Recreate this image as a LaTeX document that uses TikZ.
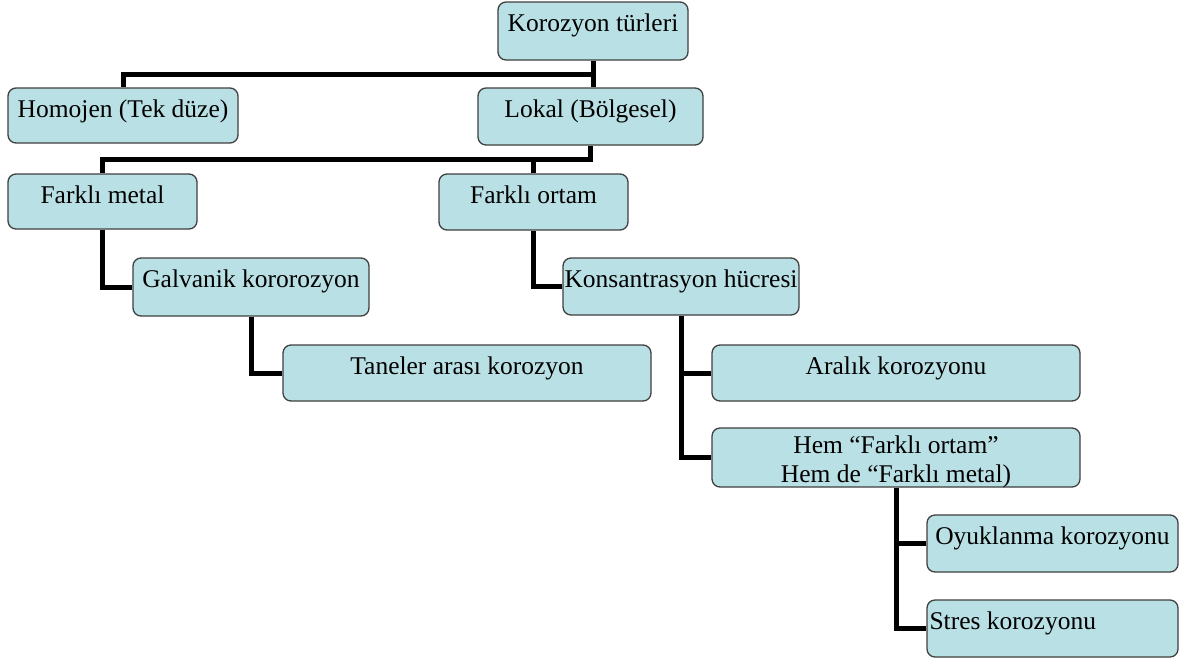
\documentclass[tikz,border=0pt]{standalone}
\usepackage{fontspec}
\setmainfont{Liberation Serif}
\usetikzlibrary{calc,backgrounds}
\definecolor{boxfill}{RGB}{185,224,228}
\definecolor{boxline}{RGB}{64,64,64}
\tikzset{
  box/.style={draw=boxline, fill=boxfill, line width=1.3pt, rounded corners=8pt, inner sep=0pt},
  txt/.style={inner sep=0pt, font=\fontsize{25.5}{29}\selectfont},
  conn/.style={line width=5pt, black}
}
\newcommand{\mybox}[5]{% name x1 y1 x2 y2
  \node[box, minimum width={(#4-#2)*1pt}, minimum height={(#5-#3)*1pt}] (#1) at ({(#2+#4)/2},{(#3+#5)/2}) {};}
\begin{document}
\begin{tikzpicture}[x=1pt,y=-1pt]
\useasboundingbox (0,0) rectangle (1182,662);

\mybox{root}{498}{2}{688}{60}
\mybox{hom}{8}{88}{238}{143}
\mybox{lok}{478}{88}{703}{145}
\mybox{fm}{8}{174}{197}{229}
\mybox{fo}{439}{174}{628}{230}
\mybox{gal}{133}{258}{369}{316}
\mybox{tan}{283}{345}{651}{401}
\mybox{kon}{563}{258}{799}{315}
\mybox{ara}{712}{345}{1080}{401}
\mybox{hem}{712}{428}{1080}{487}
\mybox{oyu}{927}{515}{1178}{572}
\mybox{str}{927}{600}{1178}{657}

\node[txt, anchor=base] (troot) at ($(root.north)+(0,30)$) {Korozyon türleri};
\node[txt, anchor=base] (thom) at ($(hom.north)+(0,30)$) {Homojen (Tek düze)};
\node[txt, anchor=base] (tlok) at ($(lok.north)+(0,30)$) {Lokal (Bölgesel)};
\node[txt, anchor=base] (tfm) at ($(fm.north)+(0,30)$) {Farklı metal};
\node[txt, anchor=base] (tfo) at ($(fo.north)+(0,30)$) {Farklı ortam};
\node[txt, anchor=base] (tgal) at ($(gal.north)+(0,30)$) {Galvanik kororozyon};
\node[txt, anchor=base] (ttan) at ($(tan.north)+(0,30)$) {Taneler arası korozyon};
\node[txt, anchor=base] (tkon) at ($(kon.north)+(0,30)$) {Konsantrasyon hücresi};
\node[txt, anchor=base] (tara) at ($(ara.north)+(0,30)$) {Aralık korozyonu};
\node[txt, anchor=base] (thema) at ($(hem.north)+(0,26)$) {Hem “Farklı ortam”};
\node[txt, anchor=base] (themb) at ($(hem.north)+(0,55)$) {Hem de “Farklı metal)};
\node[txt, anchor=base] (toyu) at ($(oyu.north)+(0,30)$) {Oyuklanma korozyonu};
\node[txt, anchor=base west] (tstr) at ($(str.north west)+(3,30)$) {Stres korozyonu};

\begin{scope}[on background layer]
\fill[white] (0,0) rectangle (1182,662);
\coordinate (b1) at ($(root.south)!.5!(root.south|-lok.north)$);
\draw[conn] (root.south) -- (root.south|-lok.north);
\draw[conn] (b1) -| (hom.north);
\coordinate (b2) at ($(lok.south)!.5!(lok.south|-fm.north)$);
\draw[conn] (lok.south) -- (b2) -| (fm.north);
\draw[conn] (b2) -| (fo.north);
\draw[conn] (fm.south) |- (gal.west);
\draw[conn] (gal.south) |- (tan.west);
\draw[conn] (fo.south) |- (kon.west);
\draw[conn] (kon.south) |- (ara.west);
\draw[conn] (kon.south) |- (hem.west);
\draw[conn] (hem.south) |- (oyu.west);
\draw[conn] (hem.south) |- (str.west);
\end{scope}
\end{tikzpicture}
\end{document}
